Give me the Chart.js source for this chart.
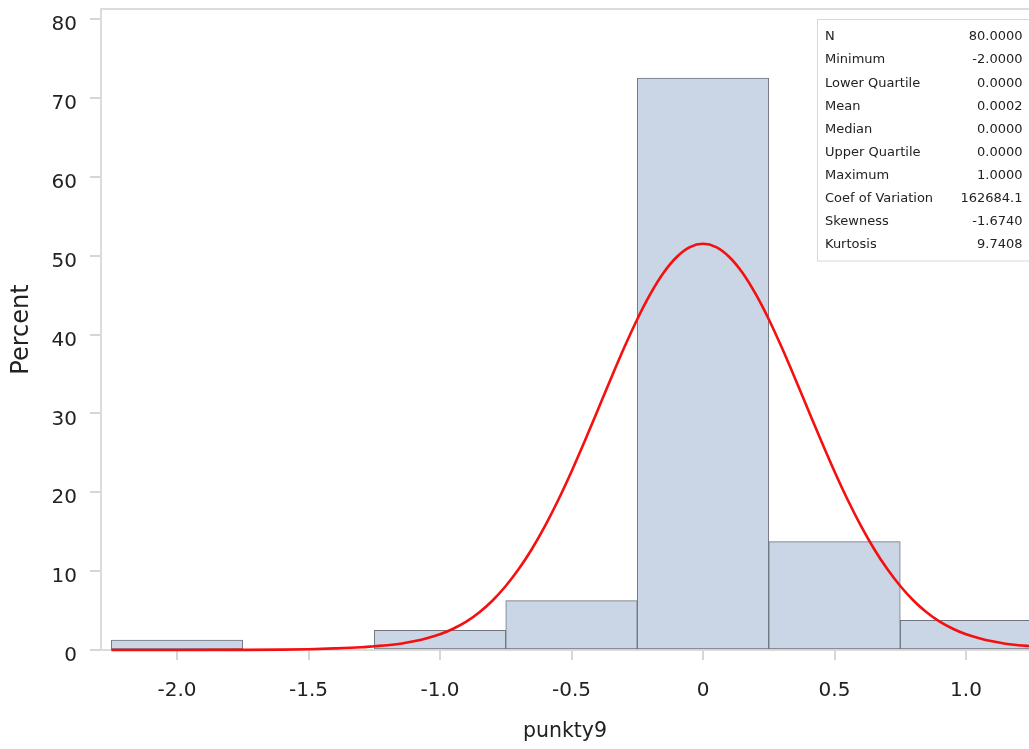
<!DOCTYPE html>
<html>
<head>
<meta charset="utf-8">
<script src="https://cdn.jsdelivr.net/npm/chart.js@4.4.1/dist/chart.umd.min.js"></script>
<style>
  html, body { margin: 0; padding: 0; background: #ffffff; overflow: hidden; }
  #wrap { width: 1029px; height: 749px; position: relative; }
</style>
</head>
<body>
<div id="wrap"><canvas id="c" width="1029" height="749"></canvas></div>
<script>
// ---- data ----
const binCenters  = [-2.0, -1.0, -0.5, 0.0, 0.5, 1.0];
const binPercents = [1.25, 2.5, 6.25, 72.5, 13.75, 3.75];

const curveX = [-2.25, -2.0, -1.75, -1.6, -1.5, -1.4, -1.3, -1.25, -1.2, -1.15, -1.1, -1.05,
  -1.0, -0.95, -0.9, -0.85, -0.8, -0.75, -0.7, -0.65, -0.6, -0.55, -0.5, -0.45, -0.4, -0.35,
  -0.3, -0.25, -0.2, -0.15, -0.1, -0.05, 0.0, 0.05, 0.1, 0.15, 0.2, 0.25, 0.3, 0.35, 0.4, 0.45,
  0.5, 0.55, 0.6, 0.65, 0.7, 0.75, 0.8, 0.85, 0.9, 0.95, 1.0, 1.05, 1.1, 1.15, 1.2, 1.25, 1.3];
const curveY = [0, 0, 0.02, 0.05, 0.1, 0.2, 0.35, 0.48, 0.6, 0.8, 1.1, 1.5,
  2.0, 2.7, 3.6, 4.79, 6.28, 8.11, 10.29, 12.84, 15.77, 19.05, 22.64, 26.47, 30.44, 34.43,
  38.31, 41.94, 45.15, 47.83, 49.83, 51.08, 51.5, 51.08, 49.83, 47.83, 45.15, 41.94, 38.31, 34.43, 30.44, 26.47,
  22.64, 19.05, 15.77, 12.84, 10.29, 8.11, 6.28, 4.79, 3.6, 2.7, 2.0, 1.5, 1.1, 0.8, 0.6, 0.48, 0.35];

const xTickValues = [-2.0, -1.5, -1.0, -0.5, 0, 0.5, 1.0];
const xTickLabels = ['-2.0', '-1.5', '-1.0', '-0.5', '0', '0.5', '1.0'];
const yTickValues = [0, 10, 20, 30, 40, 50, 60, 70, 80];

const statLabels = ['N', 'Minimum', 'Lower Quartile', 'Mean', 'Median', 'Upper Quartile',
  'Maximum', 'Coef of Variation', 'Skewness', 'Kurtosis'];
const statValues = ['80.0000', '-2.0000', '0.0000', '0.0002', '0.0000', '0.0000',
  '1.0000', '162684.1', '-1.6740', '9.7408'];

const FONT = '"DejaVu Sans", "Liberation Sans", Arial, sans-serif';
const TEXT = '#222222';
const FRAME = '#dcdcdc';

function zeroPadding(s) {
  s.paddingTop = 0; s.paddingBottom = 0; s.paddingLeft = 0; s.paddingRight = 0;
}

const framePlugin = {
  id: 'framePlugin',
  afterDraw(chart) {
    const ctx = chart.ctx;
    const a = chart.chartArea;
    ctx.save();
    // top frame line
    ctx.strokeStyle = FRAME;
    ctx.lineWidth = 2;
    ctx.beginPath();
    ctx.moveTo(a.left - 1, a.top);
    ctx.lineTo(chart.width + 5, a.top);
    ctx.stroke();
    // statistics inset
    const bx = 817.5, by = 19.5, bw = 230, bh = 241.5;
    ctx.fillStyle = '#ffffff';
    ctx.fillRect(bx, by, bw, bh);
    ctx.strokeStyle = '#d8d8d8';
    ctx.lineWidth = 1;
    ctx.strokeRect(bx, by, bw, bh);
    ctx.fillStyle = TEXT;
    ctx.font = '13px ' + FONT;
    ctx.textBaseline = 'middle';
    for (let i = 0; i < statLabels.length; i++) {
      const y = 37 + i * 23.1;
      ctx.textAlign = 'left';
      ctx.fillText(statLabels[i], 825, y);
      ctx.textAlign = 'right';
      ctx.fillText(statValues[i], 1022.5, y);
    }
    ctx.restore();
  }
};

new Chart(document.getElementById('c'), {
  type: 'bar',
  data: {
    datasets: [
      {
        type: 'line',
        label: 'Normal',
        data: curveX.map((x, i) => ({ x: x, y: curveY[i] })),
        borderColor: '#f50f0f',
        borderWidth: 2.6,
        pointRadius: 0,
        cubicInterpolationMode: 'monotone',
        fill: false,
        clip: false,
        order: 0
      },
      {
        type: 'bar',
        label: 'punkty9',
        data: binCenters.map((x, i) => ({ x: x, y: binPercents[i] })),
        backgroundColor: '#cad5e5',
        borderColor: '#6f747d',
        borderWidth: 1,
        borderSkipped: false,
        barPercentage: 1.0,
        categoryPercentage: 1.0,
        order: 1
      }
    ]
  },
  options: {
    responsive: false,
    animation: false,
    devicePixelRatio: 1,
    layout: { autoPadding: false, padding: { top: 9, left: 0, right: 0, bottom: 0 } },
    plugins: { legend: { display: false }, tooltip: { enabled: false }, title: { display: false } },
    scales: {
      x: {
        type: 'linear',
        offset: false,
        min: -2.289,
        max: 1.2395,
        afterBuildTicks: (s) => { s.ticks = xTickValues.map(v => ({ value: v })); },
        afterFit: (s) => { s.height = 99; zeroPadding(s); },
        ticks: {
          autoSkip: false, maxRotation: 0, minRotation: 0,
          padding: 19,
          color: TEXT,
          font: { family: FONT, size: 20 },
          callback: (v) => { const k = xTickValues.indexOf(v); return k >= 0 ? xTickLabels[k] : ''; }
        },
        grid: { display: true, drawOnChartArea: false, drawTicks: true, tickLength: 10, color: '#d6d6d6', lineWidth: 2, offset: false },
        border: { display: true, color: FRAME, width: 2 },
        title: { display: true, text: 'punkty9', color: TEXT, font: { family: FONT, size: 20.5 }, padding: { top: 0, bottom: 5 } }
      },
      y: {
        type: 'linear',
        min: 0,
        max: 81.27,
        afterBuildTicks: (s) => { s.ticks = yTickValues.map(v => ({ value: v })); },
        afterFit: (s) => { s.width = 101; zeroPadding(s); },
        ticks: {
          padding: 13,
          color: TEXT,
          font: { family: FONT, size: 20, lineHeight: 0.6 },
          // empty first line nudges the label slightly below its tick, as in the reference
          callback: (v) => ['', String(v)]
        },
        grid: { display: true, drawOnChartArea: false, drawTicks: true, tickLength: 11, color: '#d6d6d6', lineWidth: 2 },
        border: { display: true, color: FRAME, width: 2 },
        title: { display: true, text: 'Percent', color: TEXT, font: { family: FONT, size: 24 }, padding: { top: 7, bottom: 0 } }
      }
    }
  },
  plugins: [framePlugin]
});
</script>
</body>
</html>
